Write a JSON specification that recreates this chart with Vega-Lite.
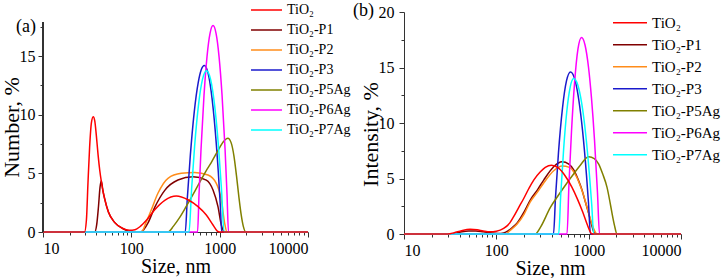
{
  "$schema": "https://vega.github.io/schema/vega-lite/v6.json",
  "background": "white",
  "padding": {"left": 0, "top": 0, "right": 0, "bottom": 0},
  "config": {
    "font": "Liberation Serif",
    "view": {"stroke": null},
    "axis": {"labelFont": "Liberation Serif", "titleFont": "Liberation Serif", "labelColor": "black", "titleColor": "black", "domainColor": "#333333", "tickColor": "#333333", "grid": false, "labelFontSize": 16, "titleFontSize": 20, "titleFontWeight": "normal", "tickSize": 5, "labelPadding": 3},
    "legend": {"labelFont": "Liberation Serif", "labelColor": "black", "symbolType": "stroke", "symbolStrokeWidth": 1.5, "padding": 0, "rowPadding": 0, "labelOffset": 4},
    "title": {"font": "Liberation Serif", "fontWeight": "normal", "fontSize": 18, "color": "black"}
  },
  "datasets": {
    "a": [
      {"series": "TiO₂-P1", "size": 10, "value": 0}, {"series": "TiO₂-P1", "size": 38.5, "value": 0}, {"series": "TiO₂-P1", "size": 40.5, "value": 0.6}, {"series": "TiO₂-P1", "size": 42.5, "value": 2.2}, {"series": "TiO₂-P1", "size": 44.2, "value": 3.8}, {"series": "TiO₂-P1", "size": 45.7, "value": 4.37}, {"series": "TiO₂-P1", "size": 47.5, "value": 3.6}, {"series": "TiO₂-P1", "size": 50, "value": 2.8}, {"series": "TiO₂-P1", "size": 55, "value": 1.7}, {"series": "TiO₂-P1", "size": 65, "value": 0.8}, {"series": "TiO₂-P1", "size": 80, "value": 0.3}, {"series": "TiO₂-P1", "size": 92, "value": 0.08}, {"series": "TiO₂-P1", "size": 100, "value": 0}, {"series": "TiO₂-P1", "size": 128, "value": 0}, {"series": "TiO₂-P1", "size": 138, "value": 0.2}, {"series": "TiO₂-P1", "size": 155, "value": 0.8}, {"series": "TiO₂-P1", "size": 184, "value": 2.1}, {"series": "TiO₂-P1", "size": 239, "value": 3.55}, {"series": "TiO₂-P1", "size": 337, "value": 4.43}, {"series": "TiO₂-P1", "size": 499, "value": 4.71}, {"series": "TiO₂-P1", "size": 706, "value": 4.43}, {"series": "TiO₂-P1", "size": 841, "value": 3.58}, {"series": "TiO₂-P1", "size": 957, "value": 2.16}, {"series": "TiO₂-P1", "size": 1045, "value": 0.6}, {"series": "TiO₂-P1", "size": 1140, "value": 0}, {"series": "TiO₂-P1", "size": 10000, "value": 0},
      {"series": "TiO₂-P2", "size": 10, "value": 0}, {"series": "TiO₂-P2", "size": 130, "value": 0}, {"series": "TiO₂-P2", "size": 148, "value": 0.88}, {"series": "TiO₂-P2", "size": 168, "value": 1.88}, {"series": "TiO₂-P2", "size": 200, "value": 3.3}, {"series": "TiO₂-P2", "size": 260, "value": 4.58}, {"series": "TiO₂-P2", "size": 368, "value": 5.0}, {"series": "TiO₂-P2", "size": 521, "value": 5.08}, {"series": "TiO₂-P2", "size": 738, "value": 4.86}, {"series": "TiO₂-P2", "size": 916, "value": 4.15}, {"series": "TiO₂-P2", "size": 1045, "value": 2.73}, {"series": "TiO₂-P2", "size": 1140, "value": 0.74}, {"series": "TiO₂-P2", "size": 1211, "value": 0}, {"series": "TiO₂-P2", "size": 10000, "value": 0},
      {"series": "TiO₂-P3", "size": 10, "value": 0}, {"series": "TiO₂-P3", "size": 408, "value": 0}, {"series": "TiO₂-P3", "size": 430, "value": 2.83}, {"series": "TiO₂-P3", "size": 465, "value": 6.49}, {"series": "TiO₂-P3", "size": 516, "value": 10.27}, {"series": "TiO₂-P3", "size": 573, "value": 12.78}, {"series": "TiO₂-P3", "size": 620, "value": 13.85}, {"series": "TiO₂-P3", "size": 669, "value": 14.2}, {"series": "TiO₂-P3", "size": 724, "value": 13.78}, {"series": "TiO₂-P3", "size": 783, "value": 12.53}, {"series": "TiO₂-P3", "size": 869, "value": 9.56}, {"series": "TiO₂-P3", "size": 965, "value": 5.11}, {"series": "TiO₂-P3", "size": 1016, "value": 2.33}, {"series": "TiO₂-P3", "size": 1056, "value": 0}, {"series": "TiO₂-P3", "size": 10000, "value": 0},
      {"series": "TiO₂-P5Ag", "size": 10, "value": 0}, {"series": "TiO₂-P5Ag", "size": 260, "value": 0}, {"series": "TiO₂-P5Ag", "size": 300, "value": 0.5}, {"series": "TiO₂-P5Ag", "size": 350, "value": 1.2}, {"series": "TiO₂-P5Ag", "size": 420, "value": 2.2}, {"series": "TiO₂-P5Ag", "size": 500, "value": 3.2}, {"series": "TiO₂-P5Ag", "size": 600, "value": 4.3}, {"series": "TiO₂-P5Ag", "size": 700, "value": 5.2}, {"series": "TiO₂-P5Ag", "size": 800, "value": 5.9}, {"series": "TiO₂-P5Ag", "size": 900, "value": 6.6}, {"series": "TiO₂-P5Ag", "size": 1000, "value": 7.2}, {"series": "TiO₂-P5Ag", "size": 1100, "value": 7.7}, {"series": "TiO₂-P5Ag", "size": 1240, "value": 8.0}, {"series": "TiO₂-P5Ag", "size": 1350, "value": 7.6}, {"series": "TiO₂-P5Ag", "size": 1450, "value": 6.5}, {"series": "TiO₂-P5Ag", "size": 1550, "value": 4.8}, {"series": "TiO₂-P5Ag", "size": 1650, "value": 3.0}, {"series": "TiO₂-P5Ag", "size": 1750, "value": 1.5}, {"series": "TiO₂-P5Ag", "size": 1850, "value": 0.5}, {"series": "TiO₂-P5Ag", "size": 1980, "value": 0}, {"series": "TiO₂-P5Ag", "size": 10000, "value": 0},
      {"series": "TiO₂-P6Ag", "size": 10, "value": 0}, {"series": "TiO₂-P6Ag", "size": 562, "value": 0}, {"series": "TiO₂-P6Ag", "size": 584, "value": 3.24}, {"series": "TiO₂-P6Ag", "size": 615, "value": 7.05}, {"series": "TiO₂-P6Ag", "size": 665, "value": 11.67}, {"series": "TiO₂-P6Ag", "size": 719, "value": 14.96}, {"series": "TiO₂-P6Ag", "size": 778, "value": 16.94}, {"series": "TiO₂-P6Ag", "size": 841, "value": 17.6}, {"series": "TiO₂-P6Ag", "size": 910, "value": 16.94}, {"series": "TiO₂-P6Ag", "size": 984, "value": 14.96}, {"series": "TiO₂-P6Ag", "size": 1064, "value": 11.67}, {"series": "TiO₂-P6Ag", "size": 1151, "value": 7.05}, {"series": "TiO₂-P6Ag", "size": 1211, "value": 3.24}, {"series": "TiO₂-P6Ag", "size": 1259, "value": 0}, {"series": "TiO₂-P6Ag", "size": 10000, "value": 0},
      {"series": "TiO₂-P7Ag", "size": 10, "value": 0}, {"series": "TiO₂-P7Ag", "size": 450, "value": 0}, {"series": "TiO₂-P7Ag", "size": 481, "value": 3.65}, {"series": "TiO₂-P7Ag", "size": 520, "value": 7.28}, {"series": "TiO₂-P7Ag", "size": 577, "value": 10.88}, {"series": "TiO₂-P7Ag", "size": 640, "value": 13.03}, {"series": "TiO₂-P7Ag", "size": 710, "value": 13.75}, {"series": "TiO₂-P7Ag", "size": 788, "value": 13.03}, {"series": "TiO₂-P7Ag", "size": 874, "value": 10.88}, {"series": "TiO₂-P7Ag", "size": 970, "value": 7.28}, {"series": "TiO₂-P7Ag", "size": 1049, "value": 3.65}, {"series": "TiO₂-P7Ag", "size": 1120, "value": 0}, {"series": "TiO₂-P7Ag", "size": 10000, "value": 0},
      {"series": "TiO₂", "size": 10, "value": 0}, {"series": "TiO₂", "size": 29.5, "value": 0}, {"series": "TiO₂", "size": 31, "value": 1.0}, {"series": "TiO₂", "size": 32.3, "value": 4.2}, {"series": "TiO₂", "size": 33.7, "value": 7.2}, {"series": "TiO₂", "size": 35.3, "value": 9.3}, {"series": "TiO₂", "size": 37, "value": 9.83}, {"series": "TiO₂", "size": 38.5, "value": 9.5}, {"series": "TiO₂", "size": 40.2, "value": 8.2}, {"series": "TiO₂", "size": 42, "value": 6.6}, {"series": "TiO₂", "size": 44, "value": 5.2}, {"series": "TiO₂", "size": 46, "value": 4.2}, {"series": "TiO₂", "size": 48, "value": 3.4}, {"series": "TiO₂", "size": 50, "value": 2.8}, {"series": "TiO₂", "size": 55, "value": 1.7}, {"series": "TiO₂", "size": 65, "value": 0.8}, {"series": "TiO₂", "size": 80, "value": 0.3}, {"series": "TiO₂", "size": 95, "value": 0.15}, {"series": "TiO₂", "size": 110, "value": 0.2}, {"series": "TiO₂", "size": 125, "value": 0.45}, {"series": "TiO₂", "size": 148, "value": 1.0}, {"series": "TiO₂", "size": 184, "value": 1.9}, {"series": "TiO₂", "size": 239, "value": 2.7}, {"series": "TiO₂", "size": 323, "value": 3.07}, {"series": "TiO₂", "size": 438, "value": 2.75}, {"series": "TiO₂", "size": 569, "value": 2.16}, {"series": "TiO₂", "size": 706, "value": 1.45}, {"series": "TiO₂", "size": 841, "value": 0.6}, {"series": "TiO₂", "size": 940, "value": 0.08}, {"series": "TiO₂", "size": 1000, "value": 0}, {"series": "TiO₂", "size": 10000, "value": 0}
    ],
    "b": [
      {"series": "TiO₂-P1", "size": 10, "value": 0}, {"series": "TiO₂-P1", "size": 33, "value": 0}, {"series": "TiO₂-P1", "size": 40, "value": 0.15}, {"series": "TiO₂-P1", "size": 50, "value": 0.28}, {"series": "TiO₂-P1", "size": 60, "value": 0.28}, {"series": "TiO₂-P1", "size": 72, "value": 0.2}, {"series": "TiO₂-P1", "size": 90, "value": 0.08}, {"series": "TiO₂-P1", "size": 105, "value": 0.05}, {"series": "TiO₂-P1", "size": 120, "value": 0.1}, {"series": "TiO₂-P1", "size": 135, "value": 0.3}, {"series": "TiO₂-P1", "size": 150, "value": 0.6}, {"series": "TiO₂-P1", "size": 168, "value": 1.0}, {"series": "TiO₂-P1", "size": 200, "value": 2.0}, {"series": "TiO₂-P1", "size": 233, "value": 3.06}, {"series": "TiO₂-P1", "size": 280, "value": 4.0}, {"series": "TiO₂-P1", "size": 326, "value": 4.86}, {"series": "TiO₂-P1", "size": 418, "value": 6.06}, {"series": "TiO₂-P1", "size": 515, "value": 6.5}, {"series": "TiO₂-P1", "size": 610, "value": 6.3}, {"series": "TiO₂-P1", "size": 689, "value": 5.77}, {"series": "TiO₂-P1", "size": 770, "value": 4.9}, {"series": "TiO₂-P1", "size": 847, "value": 3.96}, {"series": "TiO₂-P1", "size": 920, "value": 2.9}, {"series": "TiO₂-P1", "size": 1000, "value": 1.86}, {"series": "TiO₂-P1", "size": 1070, "value": 0.9}, {"series": "TiO₂-P1", "size": 1133, "value": 0.2}, {"series": "TiO₂-P1", "size": 1180, "value": 0}, {"series": "TiO₂-P1", "size": 10000, "value": 0},
      {"series": "TiO₂-P2", "size": 10, "value": 0}, {"series": "TiO₂-P2", "size": 125, "value": 0}, {"series": "TiO₂-P2", "size": 140, "value": 0.3}, {"series": "TiO₂-P2", "size": 168, "value": 0.9}, {"series": "TiO₂-P2", "size": 200, "value": 1.8}, {"series": "TiO₂-P2", "size": 233, "value": 2.9}, {"series": "TiO₂-P2", "size": 280, "value": 3.8}, {"series": "TiO₂-P2", "size": 326, "value": 4.6}, {"series": "TiO₂-P2", "size": 418, "value": 5.7}, {"series": "TiO₂-P2", "size": 515, "value": 6.13}, {"series": "TiO₂-P2", "size": 620, "value": 6.0}, {"series": "TiO₂-P2", "size": 700, "value": 5.5}, {"series": "TiO₂-P2", "size": 790, "value": 4.6}, {"series": "TiO₂-P2", "size": 880, "value": 3.5}, {"series": "TiO₂-P2", "size": 960, "value": 2.4}, {"series": "TiO₂-P2", "size": 1040, "value": 1.4}, {"series": "TiO₂-P2", "size": 1130, "value": 0.5}, {"series": "TiO₂-P2", "size": 1230, "value": 0}, {"series": "TiO₂-P2", "size": 10000, "value": 0},
      {"series": "TiO₂-P3", "size": 10, "value": 0}, {"series": "TiO₂-P3", "size": 416, "value": 0}, {"series": "TiO₂-P3", "size": 437, "value": 3.23}, {"series": "TiO₂-P3", "size": 471, "value": 7.33}, {"series": "TiO₂-P3", "size": 521, "value": 11.37}, {"series": "TiO₂-P3", "size": 575, "value": 13.79}, {"series": "TiO₂-P3", "size": 636, "value": 14.6}, {"series": "TiO₂-P3", "size": 703, "value": 14.02}, {"series": "TiO₂-P3", "size": 776, "value": 12.26}, {"series": "TiO₂-P3", "size": 858, "value": 9.34}, {"series": "TiO₂-P3", "size": 948, "value": 5.26}, {"series": "TiO₂-P3", "size": 996, "value": 2.77}, {"series": "TiO₂-P3", "size": 1047, "value": 0}, {"series": "TiO₂-P3", "size": 10000, "value": 0},
      {"series": "TiO₂-P5Ag", "size": 10, "value": 0}, {"series": "TiO₂-P5Ag", "size": 264, "value": 0}, {"series": "TiO₂-P5Ag", "size": 300, "value": 0.6}, {"series": "TiO₂-P5Ag", "size": 385, "value": 2.4}, {"series": "TiO₂-P5Ag", "size": 480, "value": 3.6}, {"series": "TiO₂-P5Ag", "size": 582, "value": 4.6}, {"series": "TiO₂-P5Ag", "size": 700, "value": 5.5}, {"series": "TiO₂-P5Ag", "size": 812, "value": 6.2}, {"series": "TiO₂-P5Ag", "size": 1000, "value": 6.96}, {"series": "TiO₂-P5Ag", "size": 1150, "value": 6.8}, {"series": "TiO₂-P5Ag", "size": 1284, "value": 6.3}, {"series": "TiO₂-P5Ag", "size": 1420, "value": 5.4}, {"series": "TiO₂-P5Ag", "size": 1581, "value": 4.2}, {"series": "TiO₂-P5Ag", "size": 1700, "value": 2.9}, {"series": "TiO₂-P5Ag", "size": 1791, "value": 1.86}, {"series": "TiO₂-P5Ag", "size": 1900, "value": 0.8}, {"series": "TiO₂-P5Ag", "size": 2028, "value": 0}, {"series": "TiO₂-P5Ag", "size": 10000, "value": 0},
      {"series": "TiO₂-P6Ag", "size": 10, "value": 0}, {"series": "TiO₂-P6Ag", "size": 583, "value": 0}, {"series": "TiO₂-P6Ag", "size": 612, "value": 4.55}, {"series": "TiO₂-P6Ag", "size": 652, "value": 9.28}, {"series": "TiO₂-P6Ag", "size": 703, "value": 13.57}, {"series": "TiO₂-P6Ag", "size": 766, "value": 16.67}, {"series": "TiO₂-P6Ag", "size": 837, "value": 17.7}, {"series": "TiO₂-P6Ag", "size": 913, "value": 17.03}, {"series": "TiO₂-P6Ag", "size": 996, "value": 15.02}, {"series": "TiO₂-P6Ag", "size": 1073, "value": 12.24}, {"series": "TiO₂-P6Ag", "size": 1157, "value": 8.47}, {"series": "TiO₂-P6Ag", "size": 1246, "value": 3.72}, {"series": "TiO₂-P6Ag", "size": 1311, "value": 0}, {"series": "TiO₂-P6Ag", "size": 10000, "value": 0},
      {"series": "TiO₂-P7Ag", "size": 10, "value": 0}, {"series": "TiO₂-P7Ag", "size": 474, "value": 0}, {"series": "TiO₂-P7Ag", "size": 498, "value": 3.49}, {"series": "TiO₂-P7Ag", "size": 537, "value": 7.78}, {"series": "TiO₂-P7Ag", "size": 578, "value": 10.95}, {"series": "TiO₂-P7Ag", "size": 631, "value": 13.24}, {"series": "TiO₂-P7Ag", "size": 689, "value": 14.0}, {"series": "TiO₂-P7Ag", "size": 761, "value": 13.44}, {"series": "TiO₂-P7Ag", "size": 841, "value": 11.76}, {"series": "TiO₂-P7Ag", "size": 929, "value": 8.96}, {"series": "TiO₂-P7Ag", "size": 1026, "value": 5.04}, {"series": "TiO₂-P7Ag", "size": 1079, "value": 2.66}, {"series": "TiO₂-P7Ag", "size": 1134, "value": 0}, {"series": "TiO₂-P7Ag", "size": 10000, "value": 0},
      {"series": "TiO₂", "size": 10, "value": 0}, {"series": "TiO₂", "size": 30, "value": 0}, {"series": "TiO₂", "size": 35, "value": 0.12}, {"series": "TiO₂", "size": 42, "value": 0.3}, {"series": "TiO₂", "size": 52, "value": 0.42}, {"series": "TiO₂", "size": 62, "value": 0.38}, {"series": "TiO₂", "size": 72, "value": 0.28}, {"series": "TiO₂", "size": 85, "value": 0.2}, {"series": "TiO₂", "size": 100, "value": 0.25}, {"series": "TiO₂", "size": 120, "value": 0.5}, {"series": "TiO₂", "size": 140, "value": 1.0}, {"series": "TiO₂", "size": 154, "value": 1.56}, {"series": "TiO₂", "size": 175, "value": 2.4}, {"series": "TiO₂", "size": 198, "value": 3.2}, {"series": "TiO₂", "size": 225, "value": 4.1}, {"series": "TiO₂", "size": 254, "value": 4.86}, {"series": "TiO₂", "size": 300, "value": 5.6}, {"series": "TiO₂", "size": 339, "value": 6.0}, {"series": "TiO₂", "size": 395, "value": 6.2}, {"series": "TiO₂", "size": 470, "value": 5.95}, {"series": "TiO₂", "size": 560, "value": 5.2}, {"series": "TiO₂", "size": 660, "value": 4.2}, {"series": "TiO₂", "size": 760, "value": 3.1}, {"series": "TiO₂", "size": 860, "value": 2.0}, {"series": "TiO₂", "size": 960, "value": 0.9}, {"series": "TiO₂", "size": 1040, "value": 0.2}, {"series": "TiO₂", "size": 1080, "value": 0}, {"series": "TiO₂", "size": 10000, "value": 0}
    ]
  },
  "hconcat": [
    {
      "width": 265,
      "height": 220,
      "title": {"text": "(a)", "anchor": "start", "frame": "group", "dx": -27, "dy": 40},
      "data": {"name": "a"},
      "layer": [
        {
          "mark": {"type": "line", "strokeWidth": 1.5, "interpolate": "monotone"},
          "encoding": {
            "x": {"field": "size", "type": "quantitative", "scale": {"type": "log", "domain": [10, 10000], "nice": false}, "axis": {"title": "Size, nm", "values": [10, 100, 1000, 10000], "format": "d", "titlePadding": 0}},
            "y": {"field": "value", "type": "quantitative", "scale": {"domain": [0, 18.76], "nice": false}, "axis": {"title": "Number, %", "values": [0, 5, 10, 15], "domain": false, "titlePadding": -4, "titleFontSize": 22, "titleY": 115}},
            "color": {
              "field": "series", "type": "nominal",
              "scale": {"domain": ["TiO₂", "TiO₂-P1", "TiO₂-P2", "TiO₂-P3", "TiO₂-P5Ag", "TiO₂-P6Ag", "TiO₂-P7Ag"], "range": ["#ff0000", "#800000", "#ff8c1a", "#1a1acc", "#808000", "#ff00ff", "#00ffff"]},
              "legend": {"title": null, "orient": "none", "legendX": 207, "legendY": -12, "symbolSize": 961, "labelFontSize": 14, "clipHeight": 20}
            }
          }
        },
        {
          "mark": {"type": "rule", "color": "#333333", "strokeWidth": 1},
          "encoding": {
            "x": {"datum": 10, "type": "quantitative", "axis": {"title": null, "orient": "bottom", "values": [20, 30, 40, 50, 60, 70, 80, 90, 200, 300, 400, 500, 600, 700, 800, 900, 2000, 3000, 4000, 5000, 6000, 7000, 8000, 9000], "labels": false, "domain": false, "tickSize": 3}},
            "y": {"datum": 0, "type": "quantitative", "axis": {"title": null, "orient": "left", "values": [2.5, 7.5, 12.5, 17.5], "labels": false, "domain": false, "tickSize": 3}},
            "y2": {"datum": 17.9}
          }
        }
      ],
      "resolve": {"axis": {"x": "independent", "y": "independent"}}
    },
    {
      "width": 277,
      "height": 222,
      "title": {"text": "(b)", "anchor": "start", "frame": "group", "dx": -51, "dy": 20},
      "data": {"name": "b"},
      "layer": [
        {
          "mark": {"type": "line", "strokeWidth": 1.5, "interpolate": "monotone"},
          "encoding": {
            "x": {"field": "size", "type": "quantitative", "scale": {"type": "log", "domain": [10, 10000], "nice": false}, "axis": {"title": "Size, nm", "values": [10, 100, 1000, 10000], "format": "d", "titlePadding": 0, "titleX": 146}},
            "y": {"field": "value", "type": "quantitative", "scale": {"domain": [0, 20], "nice": false}, "axis": {"title": "Intensity, %", "values": [0, 5, 10, 15, 20], "titlePadding": -4, "labelPadding": 5, "titleFontSize": 22, "titleY": 122}},
            "color": {
              "field": "series", "type": "nominal",
              "scale": {"domain": ["TiO₂", "TiO₂-P1", "TiO₂-P2", "TiO₂-P3", "TiO₂-P5Ag", "TiO₂-P6Ag", "TiO₂-P7Ag"], "range": ["#ff0000", "#800000", "#ff8c1a", "#1a1acc", "#808000", "#ff00ff", "#00ffff"]},
              "legend": {"title": null, "orient": "none", "legendX": 208, "legendY": 0, "symbolSize": 1156, "labelFontSize": 15, "clipHeight": 21.6}
            }
          }
        },
        {
          "mark": {"type": "rule", "color": "#333333", "strokeWidth": 1, "opacity": 0},
          "encoding": {
            "x": {"datum": 10, "type": "quantitative", "axis": {"title": null, "orient": "bottom", "values": [20, 30, 40, 50, 60, 70, 80, 90, 200, 300, 400, 500, 600, 700, 800, 900, 2000, 3000, 4000, 5000, 6000, 7000, 8000, 9000], "labels": false, "domain": false, "tickSize": 3}},
            "y": {"datum": 0, "type": "quantitative", "axis": {"title": null, "orient": "left", "values": [2.5, 7.5, 12.5, 17.5], "labels": false, "domain": false, "tickSize": 3}},
            "y2": {"datum": 20}
          }
        }
      ],
      "resolve": {"axis": {"x": "independent", "y": "independent"}}
    }
  ],
  "spacing": 96,
  "bounds": "flush",
  "resolve": {"scale": {"color": "independent"}, "legend": {"color": "independent"}}
}
